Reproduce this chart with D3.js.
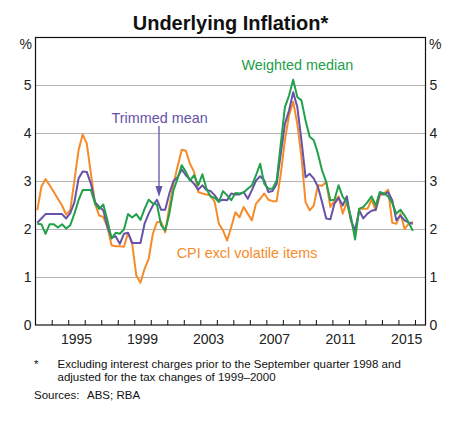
<!DOCTYPE html>
<html>
<head>
<meta charset="utf-8">
<script src="https://cdn.jsdelivr.net/npm/d3@7"></script>
<style>
  html, body { margin: 0; padding: 0; background: #fff; }
  svg text { font-family: Arial, "Liberation Sans", Helvetica, sans-serif; }
</style>
</head>
<body>
<svg id="chart" width="468" height="424"></svg>
<script>
// Quarterly data, March quarter 1993 to December quarter 2015 (year-ended, %)
const firstYear = 1993;
const quarters = d3.range(92).map(i => firstYear + (i + 0.5) / 4);

const cpiExclVolatile = [
  2.39, 2.88, 3.04, 2.91, 2.77, 2.63, 2.49, 2.30,
  2.40, 3.01, 3.64, 3.97, 3.78, 3.15, 2.53, 2.28,
  2.25, 2.04, 1.66, 1.64, 1.64, 1.63, 1.92, 1.69,
  1.03, 0.88, 1.17, 1.38, 1.90, 2.14, 2.15, 1.93,
  2.46, 2.94, 3.30, 3.65, 3.63, 3.36, 3.19, 2.77,
  2.74, 2.72, 2.70, 2.56, 2.11, 1.97, 1.76, 2.04,
  2.35, 2.24, 2.46, 2.32, 2.18, 2.53, 2.63, 2.74,
  2.61, 2.58, 2.58, 3.15, 3.85, 4.37, 4.65, 4.19,
  3.50, 2.56, 2.39, 2.49, 2.91, 2.90, 2.98, 2.46,
  2.58, 2.68, 2.32, 2.56, 2.18, 1.90, 2.42, 2.42,
  2.42, 2.61, 2.39, 2.70, 2.74, 2.82, 2.13, 2.11,
  2.32, 2.00, 2.11, 2.15
];

const trimmedMean = [
  2.13, 2.22, 2.31, 2.31, 2.31, 2.31, 2.31, 2.22,
  2.33, 2.56, 3.05, 3.20, 3.19, 2.94, 2.56, 2.46,
  2.39, 2.04, 1.82, 1.85, 1.69, 1.90, 1.92, 1.71,
  1.71, 1.71, 2.11, 2.32, 2.49, 2.61, 2.40, 2.40,
  2.74, 3.00, 3.08, 3.24, 3.12, 3.03, 2.94, 2.82,
  2.91, 2.81, 2.79, 2.70, 2.58, 2.61, 2.60, 2.74,
  2.72, 2.72, 2.77, 2.63, 2.81, 3.01, 3.10, 3.01,
  2.77, 2.79, 2.94, 3.57, 4.19, 4.47, 4.85, 4.54,
  3.85, 3.08, 3.15, 3.05, 2.88, 2.56, 2.22, 2.20,
  2.53, 2.65, 2.49, 2.68, 2.18, 1.97, 2.39, 2.22,
  2.32, 2.38, 2.40, 2.75, 2.72, 2.77, 2.60, 2.18,
  2.28, 2.18, 2.13, 2.11
];

const weightedMedian = [
  2.11, 2.10, 1.90, 2.10, 2.10, 2.03, 2.10, 2.01,
  2.08, 2.32, 2.60, 2.81, 2.81, 2.81, 2.53, 2.42,
  2.51, 2.18, 1.80, 1.92, 1.90, 1.99, 2.31, 2.24,
  2.31, 2.19, 2.42, 2.61, 2.53, 2.51, 2.08, 1.97,
  2.32, 2.81, 3.05, 3.33, 3.19, 3.01, 3.12, 2.91,
  3.14, 2.84, 2.67, 2.65, 2.56, 2.79, 2.70, 2.60,
  2.75, 2.74, 2.76, 2.84, 2.91, 3.12, 3.36, 2.94,
  2.84, 2.84, 3.01, 3.78, 4.54, 4.78, 5.11, 4.75,
  4.68, 4.26, 3.92, 3.85, 3.57, 3.22, 2.98, 2.60,
  2.61, 2.91, 2.67, 2.56, 2.25, 1.78, 2.42, 2.46,
  2.56, 2.68, 2.49, 2.77, 2.74, 2.68, 2.54, 2.32,
  2.40, 2.28, 2.13, 1.96
];

const yTicks = [0, 1, 2, 3, 4, 5];
const xLabelYears = [1995, 1999, 2003, 2007, 2011, 2015];
const xTickYears = d3.range(1994, 2017);

const seriesNames = ["CPI excl volatile items", "Trimmed mean", "Weighted median"];
const seriesColors = ["#f68b2a", "#6652a8", "#22a04a"];
const seriesValues = [cpiExclVolatile, trimmedMean, weightedMedian];

const titleText = "Underlying Inflation*";
const footnoteLines = [
  "Excluding interest charges prior to the September quarter 1998 and",
  "adjusted for the tax changes of 1999\u20132000"
];

// ----- drawing -----
const svg = d3.select("#chart");
const plotL = 35.5, plotR = 425.5, plotT = 37.5, plotB = 325;

const x = d3.scaleLinear().domain([1993, 2016.67]).range([35.2, 426]);
const y = d3.scaleLinear().domain([0, 6]).range([plotB, 37]);

// Title
svg.append("text")
  .attr("x", (plotL + plotR) / 2).attr("y", 30)
  .attr("text-anchor", "middle")
  .attr("font-size", 20).attr("font-weight", "bold")
  .attr("fill", "#111")
  .text(titleText);

// Gridlines
svg.append("g").selectAll("line")
  .data(yTicks.filter(d => d > 0))
  .join("line")
  .attr("x1", plotL).attr("x2", plotR)
  .attr("y1", d => Math.round(y(d)) + 0.5).attr("y2", d => Math.round(y(d)) + 0.5)
  .attr("stroke", "#b4b4b4").attr("stroke-width", 1);

// Y axes (left and right) using d3 axes
const fmt = d3.format("d");
const yAxisL = d3.axisLeft(y).tickValues(yTicks).tickFormat(fmt).tickSize(0).tickPadding(4);
const gL = svg.append("g").attr("transform", `translate(${plotL},0)`).call(yAxisL);
gL.select(".domain").remove();
gL.selectAll("text").attr("font-size", 14).attr("fill", "#222").attr("font-family", "Arial, 'Liberation Sans', sans-serif");

const yAxisR = d3.axisRight(y).tickValues(yTicks).tickFormat(fmt).tickSize(0).tickPadding(4);
const gR = svg.append("g").attr("transform", `translate(${plotR},0)`).call(yAxisR);
gR.select(".domain").remove();
gR.selectAll("text").attr("font-size", 14).attr("fill", "#222").attr("font-family", "Arial, 'Liberation Sans', sans-serif");

// % labels
svg.append("text").attr("x", 32).attr("y", 49).attr("text-anchor", "end")
  .attr("font-size", 14).attr("fill", "#222").text("%");
svg.append("text").attr("x", 429).attr("y", 49).attr("text-anchor", "start")
  .attr("font-size", 14).attr("fill", "#222").text("%");

// X axis ticks (inside, pointing up)
const xAxis = d3.axisTop(x).tickValues(xTickYears).tickSize(5).tickFormat("");
const gX = svg.append("g").attr("transform", `translate(0,${plotB})`).call(xAxis);
gX.select(".domain").remove();
gX.selectAll("line").attr("stroke", "#111");

// X labels centred within each year
svg.append("g").selectAll("text")
  .data(xLabelYears)
  .join("text")
  .attr("x", d => x(d + 0.5)).attr("y", 343.5)
  .attr("text-anchor", "middle")
  .attr("font-size", 14).attr("fill", "#222")
  .text(d => d);

// Data lines
const line = d3.line()
  .x((d, i) => x(quarters[i]))
  .y(d => y(d));

seriesValues.forEach((vals, k) => {
  svg.append("path")
    .datum(vals)
    .attr("d", line)
    .attr("fill", "none")
    .attr("stroke", seriesColors[k])
    .attr("stroke-width", 2)
    .attr("stroke-linejoin", "round");
});

// Plot frame
svg.append("rect")
  .attr("x", plotL).attr("y", plotT)
  .attr("width", plotR - plotL).attr("height", plotB - plotT)
  .attr("fill", "none").attr("stroke", "#111").attr("stroke-width", 1.2);

// Series labels
svg.append("text").attr("x", 241.5).attr("y", 70)
  .attr("font-size", 14.4).attr("fill", seriesColors[2]).text(seriesNames[2]);
svg.append("text").attr("x", 111.5).attr("y", 122.5)
  .attr("font-size", 14.4).attr("fill", seriesColors[1]).text(seriesNames[1]);
svg.append("text").attr("x", 176.7).attr("y", 258.3)
  .attr("font-size", 14.4).attr("fill", seriesColors[0]).text(seriesNames[0]);

// Arrow for trimmed mean
const ax = 159;
svg.append("line").attr("x1", ax).attr("x2", ax).attr("y1", 126).attr("y2", 190)
  .attr("stroke", seriesColors[1]).attr("stroke-width", 1.3);
svg.append("path")
  .attr("d", `M${ax - 3.5},186 L${ax + 3.5},186 L${ax},197 Z`)
  .attr("fill", seriesColors[1]);

// Footnotes
svg.append("text").attr("x", 34).attr("y", 368).attr("font-size", 11.5).attr("fill", "#111").text("*");
footnoteLines.forEach((t, i) => {
  svg.append("text").attr("x", 57.5).attr("y", 367.5 + i * 13.7)
    .attr("font-size", 11.5).attr("fill", "#111").text(t);
});
svg.append("text").attr("x", 34).attr("y", 399).attr("font-size", 11.5).attr("fill", "#111").text("Sources:");
svg.append("text").attr("x", 87).attr("y", 399).attr("font-size", 11.5).attr("fill", "#111").text("ABS; RBA");
</script>
</body>
</html>
